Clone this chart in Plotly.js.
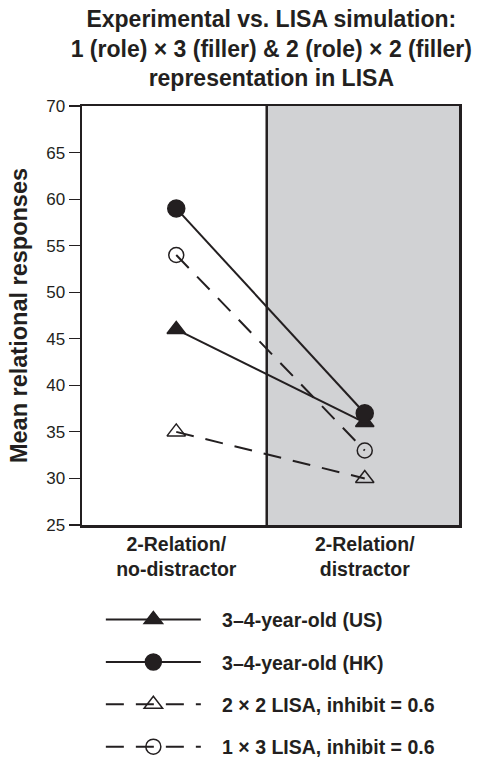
<!DOCTYPE html>
<html>
<head>
<meta charset="utf-8">
<script src="https://cdn.plot.ly/plotly-3.0.1.min.js"></script>
<style>html,body{margin:0;padding:0;background:#fff;}#chart{width:488px;height:760px;}</style>
</head>
<body>
<div id="chart"></div>
<script>
var conditions = [0, 1];
var conditionLabels = ["2-Relation/<br>no-distractor", "2-Relation/<br>distractor"];
var usValues = [46, 36];
var hkValues = [59, 37];
var lisa2x2Values = [35, 30];
var lisa1x3Values = [54, 33];
var seriesNames = ["3\u20134-year-old (US)", "3\u20134-year-old (HK)", "2 \u00d7 2 LISA, inhibit = 0.6", "1 \u00d7 3 LISA, inhibit = 0.6"];
var yTicks = [25, 30, 35, 40, 45, 50, 55, 60, 65, 70];

var ink = "#231f20";
var font = "Liberation Sans, Arial, Helvetica, sans-serif";
var pad = "\u00a0\u00a0\u00a0";

function trace(name, y, symbol, dash, size, group) {
  return {
    x: conditions, y: y, name: pad + name, type: "scatter", mode: "lines+markers",
    legendgroup: group,
    line: {color: ink, width: 2, dash: dash},
    marker: {symbol: symbol, size: size, color: ink, line: {color: ink, width: 1.5}}
  };
}

var data = [
  trace(seriesNames[0], usValues, "triangle-up", "solid", 16, "a"),
  trace(seriesNames[1], hkValues, "circle", "solid", 17, "b"),
  trace(seriesNames[2], lisa2x2Values, "triangle-up-open", "18px,12px", 16, "c"),
  trace(seriesNames[3], lisa1x3Values, "circle-open", "18px,12px", 15, "d")
];

var layout = {
  width: 488, height: 760,
  margin: {l: 82, r: 29, t: 106, b: 235, autoexpand: false},
  paper_bgcolor: "#fff", plot_bgcolor: "rgba(0,0,0,0)",
  font: {family: font, color: ink, size: 17},
  title: {
    text: "<b>Experimental vs. LISA simulation:<br>1 (role) \u00d7 3 (filler) & 2 (role) \u00d7 2 (filler)<br>representation in LISA</b>",
    font: {size: 23, family: font, color: ink},
    x: 0.556, xanchor: "center", yref: "container", y: 0.965, yanchor: "top"
  },
  xaxis: {
    range: [-0.5, 1.5], tickvals: conditions, ticktext: conditionLabels,
    showgrid: false, zeroline: false, ticks: "", showline: true, mirror: true,
    linecolor: ink, linewidth: 2.5,
    tickfont: {size: 19.5, family: font, color: ink, weight: "bold"}
  },
  yaxis: {
    range: [25, 70], tickvals: yTicks, showgrid: false, zeroline: false,
    ticks: "outside", ticklen: 11, tickwidth: 1.2, tickcolor: ink,
    showline: true, mirror: true, linecolor: ink, linewidth: 2.5,
    tickfont: {size: 17, family: font, color: ink},
    title: {text: "<b>Mean relational responses</b>", font: {size: 23.5, family: font, color: ink}, standoff: 12}
  },
  shapes: [
    {type: "rect", xref: "x", yref: "paper", x0: 0.48, x1: 1.5, y0: 0, y1: 1,
     fillcolor: "#d1d2d4", line: {width: 0}, layer: "below"},
    {type: "line", xref: "x", yref: "paper", x0: 0.48, x1: 0.48, y0: 0, y1: 1,
     line: {color: ink, width: 2.5}, layer: "above"}
  ],
  showlegend: true,
  legend: {
    orientation: "v", x: 0.05, xanchor: "left", y: -0.18, yanchor: "top",
    itemwidth: 95, tracegroupgap: 14, traceorder: "grouped",
    font: {size: 19.5, family: font, color: ink, weight: "bold"},
    bgcolor: "rgba(0,0,0,0)"
  }
};

Plotly.newPlot("chart", data, layout, {displayModeBar: false, staticPlot: true});
</script>
</body>
</html>
